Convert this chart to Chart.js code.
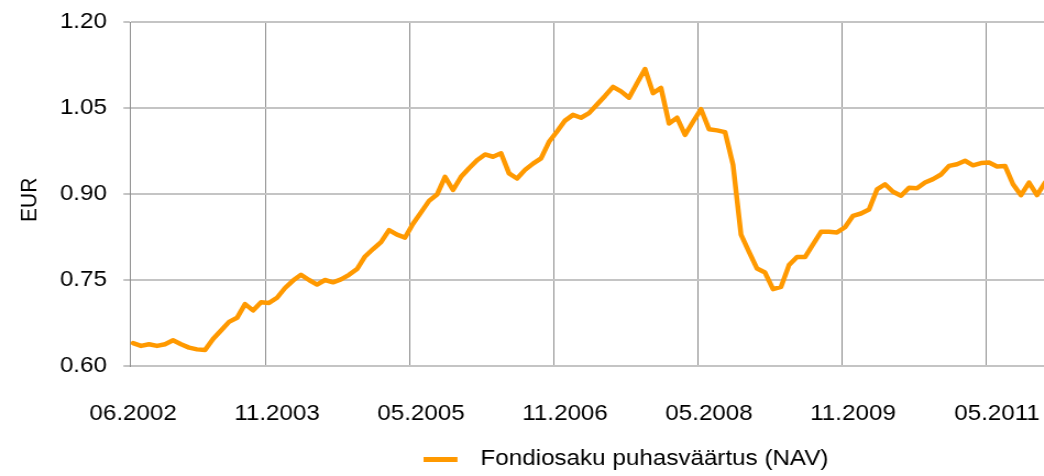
<!DOCTYPE html>
<html>
<head>
<meta charset="utf-8">
<script src="https://cdn.jsdelivr.net/npm/chart.js@4"></script>
<style>
  html, body { margin: 0; padding: 0; overflow: hidden; background: #fff; }
  /* the source picture is a slightly wide-stretched, cropped chart */
  #navChart { display: block; transform: scaleX(1.1); transform-origin: 0 0; }
</style>
</head>
<body>
<canvas id="navChart" width="1138" height="476"></canvas>
<script>
// monthly NAV, 06.2002 onwards
const nav = [
  0.640, 0.635, 0.638, 0.635, 0.638, 0.645, 0.638, 0.632, 0.629, 0.628,
  0.647, 0.662, 0.677, 0.684, 0.708, 0.697, 0.711, 0.710, 0.719, 0.736,
  0.749, 0.759, 0.750, 0.742, 0.750, 0.746, 0.751, 0.759, 0.769, 0.791,
  0.804, 0.816, 0.837, 0.829, 0.824, 0.848, 0.868, 0.888, 0.899, 0.930,
  0.907, 0.930, 0.945, 0.959, 0.969, 0.965, 0.971, 0.936, 0.927, 0.942,
  0.953, 0.962, 0.991, 1.009, 1.028, 1.038, 1.033, 1.041, 1.056, 1.071,
  1.087, 1.079, 1.068, 1.093, 1.118, 1.076, 1.085, 1.023, 1.033, 1.003,
  1.026, 1.048, 1.013, 1.011, 1.008, 0.951, 0.829, 0.799, 0.770, 0.763,
  0.734, 0.738, 0.776, 0.790, 0.790, 0.812, 0.834, 0.834, 0.833, 0.842,
  0.862, 0.866, 0.873, 0.908, 0.917, 0.904, 0.897, 0.911, 0.910, 0.920,
  0.926, 0.934, 0.949, 0.952, 0.958, 0.950, 0.954, 0.955, 0.948, 0.949,
  0.917, 0.898, 0.920, 0.898, 0.920
];
const tickLabels = ["06.2002", "11.2003", "05.2005", "11.2006", "05.2008", "11.2009", "05.2011"];
const tickAt = [0, 18, 36, 54, 72, 90, 108];
const gridAt = [16.58, 34.58, 52.58, 70.58, 88.58, 106.58];
const yTicks = [0.6, 0.75, 0.9, 1.05, 1.2];

const xMin = -0.375, xMax = 139.85;
const font = { family: "'Liberation Sans', Arial, sans-serif", size: 22 };

// legend sample: a short thick line with some room after it
const legendLine = document.createElement("canvas");
legendLine.width = 41;
legendLine.height = 5;
const lctx = legendLine.getContext("2d");
lctx.fillStyle = "#FF9900";
lctx.fillRect(0, 0, 31, 5);

new Chart(document.getElementById("navChart"), {
  type: "line",
  data: {
    datasets: [{
      label: "Fondiosaku puhasväärtus (NAV)",
      data: nav.map((v, i) => ({ x: i, y: v })),
      borderColor: "#FF9900",
      backgroundColor: "#FF9900",
      borderWidth: 4.5,
      pointRadius: 0,
      tension: 0,
      borderJoinStyle: "round",
      borderCapStyle: "round",
    }],
  },
  options: {
    responsive: false,
    devicePixelRatio: 1,
    animation: false,
    layout: { padding: { top: 22, right: 0, bottom: 0, left: 0 } },
    plugins: {
      legend: {
        position: "bottom",
        maxHeight: 28,
        labels: {
          usePointStyle: true,
          pointStyle: legendLine,
          pointStyleWidth: 41,
          padding: 0,
          color: "#000",
          font: font,
        },
      },
      tooltip: { enabled: false },
    },
    scales: {
      x: {
        type: "linear",
        min: xMin,
        max: xMax,
        afterBuildTicks: (s) => { s.ticks = gridAt.map((v) => ({ value: v })); },
        grid: { color: "#8c8c8c", lineWidth: 1, drawTicks: false },
        border: { display: false },
        ticks: { display: false },
      },
      x2: {
        type: "linear",
        position: "bottom",
        weight: 1,
        min: xMin,
        max: xMax,
        afterBuildTicks: (s) => { s.ticks = tickAt.map((v) => ({ value: v })); },
        afterFit: (s) => { s.height = 82; },
        grid: { display: false, drawTicks: false },
        border: { display: false },
        ticks: {
          color: "#000",
          font: font,
          padding: 35,
          maxRotation: 0,
          autoSkip: false,
          callback: (v) => tickLabels[tickAt.indexOf(v)],
        },
      },
      y: {
        min: 0.6,
        max: 1.2,
        afterBuildTicks: (s) => { s.ticks = yTicks.map((v) => ({ value: v })); },
        afterFit: (s) => { s.width = 118.2; s.paddingTop = 0; },
        grid: { color: "#c4c4c4", lineWidth: 2, tickLength: 6 },
        border: { color: "#8c8c8c", width: 1 },
        ticks: {
          color: "#000",
          font: font,
          padding: 15,
          callback: (v) => v.toFixed(2),
        },
        title: {
          display: true,
          text: "EUR  ",
          color: "#000",
          font: { family: font.family, size: 21 },
          padding: { top: 14.7, bottom: 0 },
        },
      },
    },
  },
});
</script>
</body>
</html>
